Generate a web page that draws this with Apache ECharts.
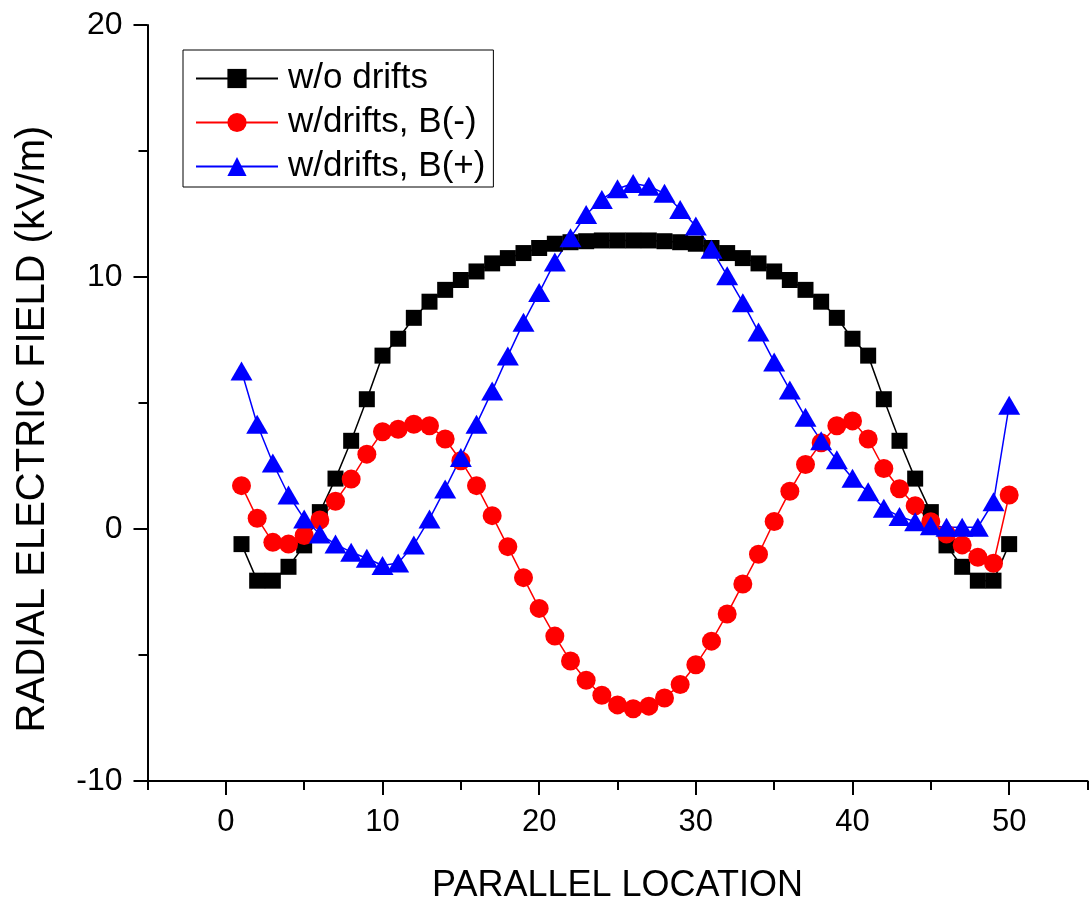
<!DOCTYPE html>
<html>
<head>
<meta charset="utf-8">
<script src="https://cdn.jsdelivr.net/npm/echarts@6/dist/echarts.min.js"></script>
<style>
html,body{margin:0;padding:0;background:#fff;}
#chart{width:1089px;height:909px;}
</style>
</head>
<body>
<div id="chart"></div>
<script>
const parallelLocation = [1,2,3,4,5,6,7,8,9,10,11,12,13,14,15,16,17,18,19,20,21,22,23,24,25,26,27,28,29,30,31,32,33,34,35,36,37,38,39,40,41,42,43,44,45,46,47,48,49,50];
const woDrifts = [-0.6, -2.05, -2.05, -1.5, -0.65, 0.67, 2.0, 3.5, 5.15, 6.88,
  7.55, 8.38, 9.02, 9.49, 9.88, 10.22, 10.54, 10.75, 10.95, 11.15,
  11.32, 11.38, 11.42, 11.45, 11.45, 11.45, 11.45, 11.42, 11.38, 11.32,
  11.15, 10.95, 10.75, 10.54, 10.22, 9.88, 9.49, 9.02, 8.38, 7.55,
  6.88, 5.15, 3.5, 2.0, 0.67, -0.65, -1.5, -2.05, -2.05, -0.6];
const driftsBMinus = [1.72, 0.43, -0.53, -0.6, -0.26, 0.36, 1.1, 1.98, 2.97, 3.86,
  3.96, 4.16, 4.1, 3.57, 2.71, 1.72, 0.53, -0.7, -1.93, -3.15,
  -4.25, -5.24, -6.0, -6.6, -6.98, -7.13, -7.03, -6.71, -6.17, -5.39,
  -4.45, -3.37, -2.18, -1.0, 0.3, 1.5, 2.56, 3.42, 4.1, 4.29,
  3.57, 2.4, 1.6, 0.92, 0.29, -0.2, -0.63, -1.12, -1.36, 1.35];
const driftsBPlus = [6.27, 4.16, 2.62, 1.35, 0.4, -0.2, -0.6, -0.92, -1.16, -1.45,
  -1.35, -0.63, 0.4, 1.59, 2.84, 4.16, 5.48, 6.87, 8.2, 9.38,
  10.6, 11.56, 12.48, 13.08, 13.5, 13.71, 13.6, 13.32, 12.68, 12.02,
  11.1, 10.05, 8.98, 7.82, 6.63, 5.52, 4.43, 3.5, 2.75, 2.01,
  1.48, 0.82, 0.5, 0.29, 0.13, 0.07, 0.07, 0.07, 1.08, 4.91];
const xMajorTicks = [0, 10, 20, 30, 40, 50];
const xMinorTicks = [-5, 5, 15, 25, 35, 45, 55];
const seriesNames = ['w/o drifts', 'w/drifts, B(-)', 'w/drifts, B(+)'];

function pairs(ys) { return parallelLocation.map((x, i) => [x, ys[i]]); }

const FONT = 'Liberation Sans, Arial, sans-serif';
const chart = echarts.init(document.getElementById('chart'), null, {renderer: 'canvas'});
chart.setOption({
  animation: false,
  backgroundColor: '#fff',
  textStyle: {fontFamily: FONT, color: '#000'},
  grid: {left: 147.5, top: 25, right: 1.5, bottom: 127, containLabel: false},
  legend: {
    data: seriesNames,
    orient: 'vertical',
    left: 183, top: 50,
    padding: [11, 8, 3, 12],
    itemWidth: 82, itemHeight: 24, itemGap: 9,
    borderColor: '#000', borderWidth: 1, borderRadius: 0,
    backgroundColor: '#fff',
    textStyle: {fontFamily: FONT, fontSize: 35, color: '#000', padding: [0, 0, 0, 5]}
  },
  xAxis: [{
    type: 'value', min: -5, max: 55, position: 'bottom',
    name: 'PARALLEL LOCATION', nameLocation: 'middle', nameGap: 87,
    nameTextStyle: {fontFamily: FONT, fontSize: 36, color: '#000'},
    axisLine: {show: true, onZero: false, lineStyle: {color: '#000', width: 2}},
    axisTick: {show: true, customValues: xMajorTicks, length: 14, lineStyle: {color: '#000', width: 2}},
    axisLabel: {show: true, customValues: xMajorTicks, fontFamily: FONT, fontSize: 31, color: '#000', margin: 26},
    splitLine: {show: false}
  }, {
    type: 'value', min: -5, max: 55, position: 'bottom',
    axisLine: {show: false, onZero: false},
    axisTick: {show: true, customValues: xMinorTicks, length: 9, lineStyle: {color: '#000', width: 2}},
    axisLabel: {show: false},
    splitLine: {show: false}
  }],
  yAxis: {
    type: 'value', min: -10, max: 20, interval: 10,
    name: 'RADIAL ELECTRIC FIELD (kV/m)', nameLocation: 'middle', nameGap: 95,
    nameTextStyle: {fontFamily: FONT, fontSize: 40, color: '#000', padding: [0, 52, 0, 0]},
    axisLine: {show: true, onZero: false, lineStyle: {color: '#000', width: 2}},
    axisTick: {show: true, length: 14, lineStyle: {color: '#000', width: 2}},
    minorTick: {show: true, splitNumber: 2, length: 9, lineStyle: {color: '#000', width: 2}},
    axisLabel: {fontFamily: FONT, fontSize: 32, color: '#000', margin: 25},
    splitLine: {show: false},
    minorSplitLine: {show: false}
  },
  series: [{
    name: seriesNames[0], type: 'line', xAxisIndex: 0, data: pairs(woDrifts),
    symbol: 'rect', symbolSize: 16,
    itemStyle: {color: '#000000'}, lineStyle: {color: '#000000', width: 1.5}
  }, {
    name: seriesNames[1], type: 'line', xAxisIndex: 0, data: pairs(driftsBMinus),
    symbol: 'circle', symbolSize: 19,
    itemStyle: {color: '#ff0000'}, lineStyle: {color: '#ff0000', width: 1.5}
  }, {
    name: seriesNames[2], type: 'line', xAxisIndex: 0, data: pairs(driftsBPlus),
    symbol: 'triangle', symbolSize: [22, 19],
    itemStyle: {color: '#0000ff'}, lineStyle: {color: '#0000ff', width: 1.5}
  }]
});
</script>
</body>
</html>
